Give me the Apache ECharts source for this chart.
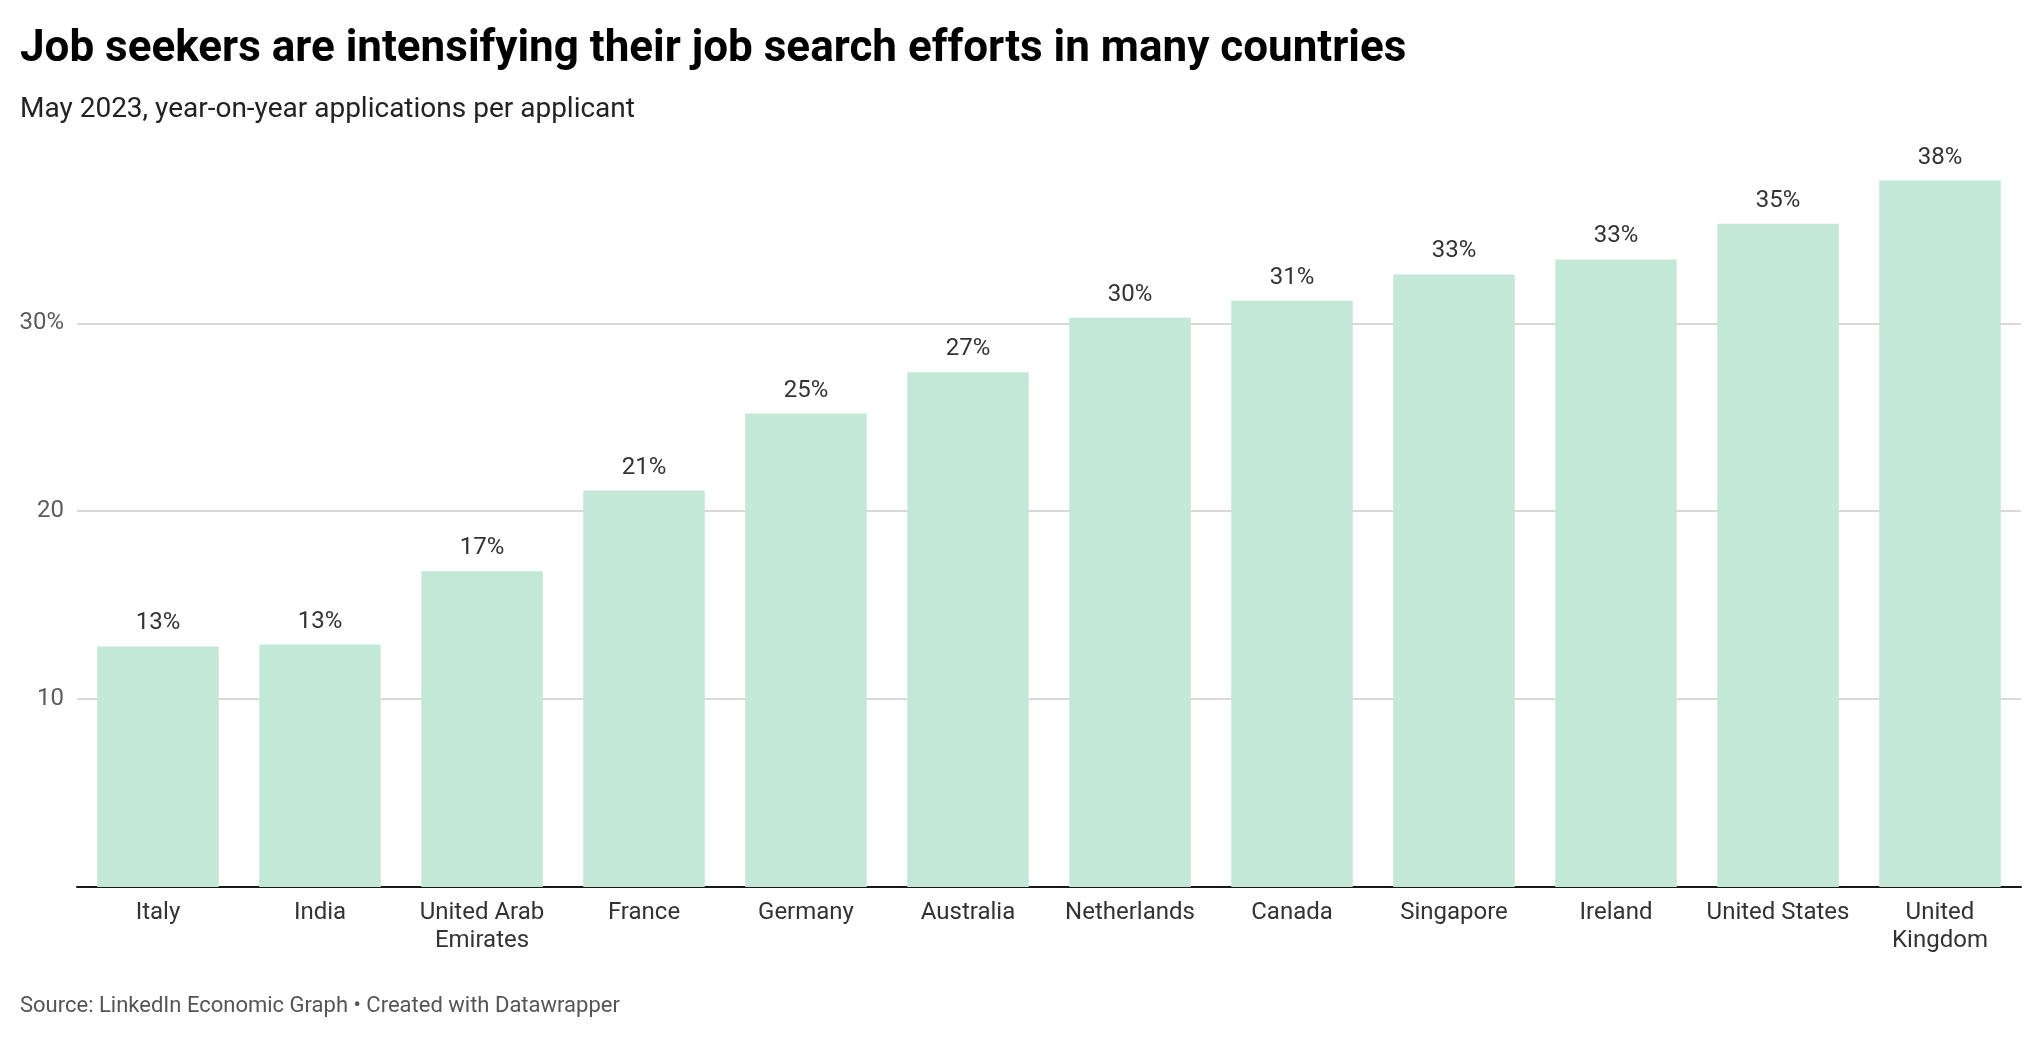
<!DOCTYPE html>
<html>
<head>
<meta charset="utf-8">
<title>Job seekers are intensifying their job search efforts in many countries</title>
<script src="https://cdn.jsdelivr.net/npm/echarts@6/dist/echarts.min.js"></script>
<style>
  html, body { margin: 0; padding: 0; background: #fff; }
  #main { width: 2040px; height: 1040px; }
</style>
</head>
<body>
<div id="main"></div>
<script>
var countries = ['Italy', 'India', 'United Arab\nEmirates', 'France', 'Germany', 'Australia',
  'Netherlands', 'Canada', 'Singapore', 'Ireland', 'United States', 'United\nKingdom'];
// year-on-year change in applications per applicant, %
var growth = [12.8, 12.9, 16.8, 21.1, 25.2, 27.4, 30.3, 31.2, 32.6, 33.4, 35.3, 37.6];
var yTicks = [10, 20, 30];

var myChart = echarts.init(document.getElementById('main'));

var option = {
  backgroundColor: '#fff',
  textStyle: { fontFamily: 'Roboto' },
  title: [
    {
      text: 'Job seekers are intensifying their job search efforts in many countries',
      left: 20, top: 28, padding: 0,
      textStyle: { fontSize: 44, fontWeight: 'bold', color: '#000', fontFamily: 'Roboto' }
    },
    {
      text: 'May 2023, year-on-year applications per applicant',
      left: 20, top: 96, padding: 0,
      textStyle: { fontSize: 28, fontWeight: 'normal', color: '#222', fontFamily: 'Roboto' }
    },
    {
      text: 'Source: LinkedIn Economic Graph • Created with Datawrapper',
      left: 20, top: 995, padding: 0,
      textStyle: { fontSize: 22, fontWeight: 'normal', color: '#555', fontFamily: 'Roboto' }
    }
  ],
  grid: { left: 77, right: 19, top: 173, bottom: 153, containLabel: false },
  xAxis: {
    type: 'category',
    data: countries,
    axisLine: { lineStyle: { color: '#1a1a1a', width: 2 } },
    axisTick: { show: false },
    axisLabel: { fontSize: 24, color: '#333', margin: 12, lineHeight: 28, interval: 0 }
  },
  yAxis: {
    type: 'value',
    min: 0, max: 38, interval: 10,
    axisLine: { show: false },
    axisTick: { show: false },
    axisLabel: {
      fontSize: 24, color: '#5c5c5c', margin: 13,
      showMinLabel: false, showMaxLabel: false,
      formatter: function (v) {
        if (yTicks.indexOf(v) < 0) return '';
        return v === 30 ? v + '%' : String(v);
      }
    },
    splitLine: { showMinLine: false, showMaxLine: false, lineStyle: { color: '#d9d9d9', width: 2 } }
  },
  series: [
    {
      type: 'bar',
      data: growth,
      barCategoryGap: '25%',
      itemStyle: { color: '#c3e8d7' },
      label: {
        show: true, position: 'top', distance: 11,
        fontSize: 24, color: '#333',
        formatter: function (p) { return Math.round(p.value) + '%'; }
      },
      silent: true
    }
  ]
};

myChart.setOption(option);
</script>
</body>
</html>
